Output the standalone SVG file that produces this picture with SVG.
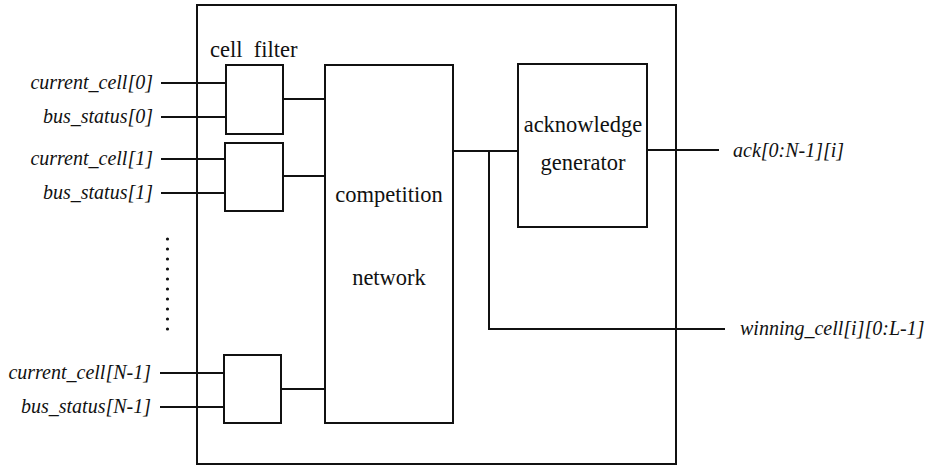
<svg xmlns="http://www.w3.org/2000/svg" width="929" height="468" viewBox="0 0 929 468">
<style>
  .box { fill: #fff; stroke: #111; stroke-width: 2; }
  .wire { fill: none; stroke: #111; stroke-width: 2; }
  .lbl { font-style: italic; font-size: 20px; fill: #111; }
  .ttl { font-size: 22.5px; fill: #111; }
  .dot { fill: #111; }
</style>
<rect width="929" height="468" fill="#fff"/>
<g id="outer-box">
  <rect class="box" x="197" y="5" width="479" height="459" fill="none"/>
</g>
<g id="cell-filter-label" font-family="'Liberation Serif', serif">
  <text class="ttl" x="210" y="57" xml:space="preserve">cell  filter</text>
</g>
<g id="connectors">
  <line class="wire" x1="161" y1="83" x2="226" y2="83"/>
  <line class="wire" x1="161" y1="117" x2="226" y2="117"/>
  <line class="wire" x1="161" y1="159" x2="225" y2="159"/>
  <line class="wire" x1="161" y1="193" x2="225" y2="193"/>
  <line class="wire" x1="160" y1="373" x2="224" y2="373"/>
  <line class="wire" x1="160" y1="407" x2="224" y2="407"/>
  <line class="wire" x1="283" y1="99" x2="325" y2="99"/>
  <line class="wire" x1="283" y1="176" x2="325" y2="176"/>
  <line class="wire" x1="281" y1="389" x2="325" y2="389"/>
  <line class="wire" x1="453" y1="151" x2="518" y2="151"/>
  <polyline class="wire" points="489,151 489,329 725,329"/>
  <line class="wire" x1="647" y1="150" x2="719" y2="150"/>
</g>
<g id="filter-0">
  <rect class="box" x="226" y="65" width="57" height="69"/>
</g>
<g id="filter-1">
  <rect class="box" x="225" y="143" width="58" height="68"/>
</g>
<g id="filter-n1">
  <rect class="box" x="224" y="355" width="57" height="68"/>
</g>
<g id="competition-network" font-family="'Liberation Serif', serif">
  <rect class="box" x="325" y="65" width="128" height="358"/>
  <text class="ttl" x="389" y="202" text-anchor="middle">competition</text>
  <text class="ttl" x="389" y="285" text-anchor="middle">network</text>
</g>
<g id="acknowledge-generator" font-family="'Liberation Serif', serif">
  <rect class="box" x="518" y="64" width="129" height="163"/>
  <text class="ttl" x="583" y="132" text-anchor="middle">acknowledge</text>
  <text class="ttl" x="583" y="170" text-anchor="middle">generator</text>
</g>
<g id="input-labels" font-family="'Liberation Serif', serif">
  <text class="lbl" x="153" y="89" text-anchor="end">current_cell[0]</text>
  <text class="lbl" x="153" y="123" text-anchor="end">bus_status[0]</text>
  <text class="lbl" x="153" y="165" text-anchor="end">current_cell[1]</text>
  <text class="lbl" x="153" y="199" text-anchor="end">bus_status[1]</text>
  <text class="lbl" x="151" y="379" text-anchor="end">current_cell[N-1]</text>
  <text class="lbl" x="151" y="413" text-anchor="end">bus_status[N-1]</text>
</g>
<g id="output-labels" font-family="'Liberation Serif', serif">
  <text class="lbl" x="733" y="157">ack[0:N-1][i]</text>
  <text class="lbl" x="740" y="335">winning_cell[i][0:L-1]</text>
</g>
<g id="ellipsis">
  <circle class="dot" cx="167.5" cy="239" r="1.6"/>
  <circle class="dot" cx="167.5" cy="249" r="1.6"/>
  <circle class="dot" cx="167.5" cy="259" r="1.6"/>
  <circle class="dot" cx="167.5" cy="269" r="1.6"/>
  <circle class="dot" cx="167.5" cy="279" r="1.6"/>
  <circle class="dot" cx="167.5" cy="289" r="1.6"/>
  <circle class="dot" cx="167.5" cy="299" r="1.6"/>
  <circle class="dot" cx="167.5" cy="309" r="1.6"/>
  <circle class="dot" cx="167.5" cy="319" r="1.6"/>
  <circle class="dot" cx="167.5" cy="329" r="1.6"/>
</g>
</svg>
